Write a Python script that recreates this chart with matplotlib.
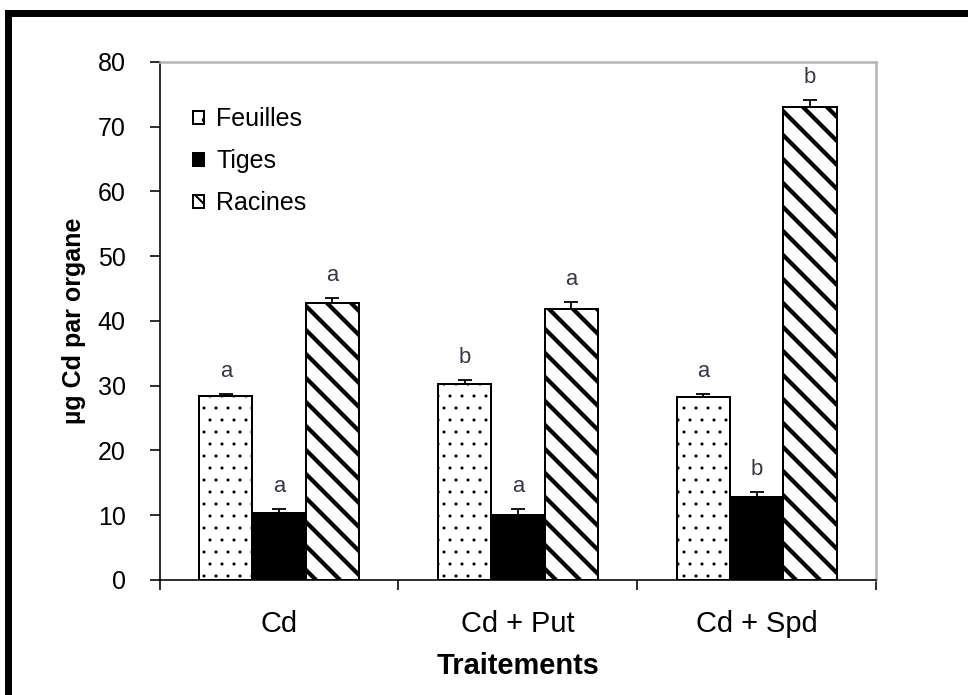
import matplotlib
matplotlib.use("Agg")
import matplotlib.pyplot as plt
from matplotlib.lines import Line2D
import numpy as np

plt.rcParams['font.family'] = ['Liberation Sans', 'DejaVu Sans']

traitements = ['Cd', 'Cd + Put', 'Cd + Spd']

feuilles = [28.4, 30.3, 28.2]
feuilles_err = [0.3, 0.6, 0.5]
feuilles_lettres = ['a', 'b', 'a']

tiges = [10.3, 10.0, 12.8]
tiges_err = [0.6, 0.9, 0.8]
tiges_lettres = ['a', 'a', 'b']

racines = [42.8, 41.9, 73.0]
racines_err = [0.8, 1.0, 1.1]
racines_lettres = ['a', 'a', 'b']

# dpi 72 : 1 point = 1 pixel, et le motif de hachure fait 72 px
fig = plt.figure(figsize=(968 / 72, 695 / 72), dpi=72)
ax = fig.add_axes([0.165, 0.1655, 0.740, 0.7455])

x = np.arange(len(traitements))
w = 0.223

series = [
    ('Feuilles', feuilles, feuilles_err, feuilles_lettres, 'white', '.', 0.6),
    ('Tiges', tiges, tiges_err, tiges_lettres, 'black', None, 1.0),
    ('Racines', racines, racines_err, racines_lettres, 'white', '\\', 4.2),
]

for i, (nom, vals, errs, lettres, fc, hatch, hlw) in enumerate(series):
    pos = x + (i - 1) * w
    with plt.rc_context({'hatch.linewidth': hlw, 'hatch.color': 'black'}):
        bars = ax.bar(pos, vals, width=w, color=fc, edgecolor='black',
                      linewidth=2, hatch=hatch, label=nom, zorder=2)
        for b in bars:
            if hasattr(b, 'set_hatch_linewidth'):
                b.set_hatch_linewidth(hlw)
    ax.errorbar(pos, vals, yerr=[np.zeros(len(vals)), errs], fmt='none',
                ecolor='black', elinewidth=1.8, capsize=7, capthick=1.8, zorder=3)
    for p, v, e, l in zip(pos, vals, errs, lettres):
        ax.annotate(l, (p, v + e), xytext=(0, 12), textcoords='offset points',
                    ha='center', va='bottom', fontsize=22, color='#3a3545')

ax.set_xlim(-0.5, 2.5)
ax.set_ylim(0, 80)
ax.set_yticks(range(0, 81, 10))
ax.set_xticks(x)
ax.set_xticklabels(traitements)
ax.set_xticks([-0.5, 0.5, 1.5, 2.5], minor=True)
ax.tick_params(axis='x', which='major', length=0, labelsize=29, pad=30)
ax.tick_params(axis='x', which='minor', length=10, width=1.6, direction='out')
ax.tick_params(axis='y', length=10, width=1.6, direction='out', labelsize=25, pad=24)

for s in ['left', 'bottom']:
    ax.spines[s].set_linewidth(1.6)
    ax.spines[s].set_color('black')
for s in ['top', 'right']:
    ax.spines[s].set_linewidth(2.5)
    ax.spines[s].set_color('#b4b4b4')

ax.set_ylabel('µg Cd par organe', fontsize=25, fontweight='bold', labelpad=12)
ax.set_xlabel('Traitements', fontsize=29, fontweight='bold', labelpad=14)

with plt.rc_context({'hatch.linewidth': 2.0}):
    leg = ax.legend(loc='upper left', frameon=False, fontsize=25,
                    handlelength=0.45, handleheight=0.45, handletextpad=0.5,
                    labelspacing=0.72, borderpad=0, borderaxespad=0,
                    bbox_to_anchor=(0.046, 0.912))

# cadre noir autour de la figure
fig.add_artist(Line2D([0.0085, 0.0085], [-0.01, 0.981], color='black', lw=7,
                      transform=fig.transFigure, solid_capstyle='projecting'))
fig.add_artist(Line2D([0.0085, 1.01], [0.981, 0.981], color='black', lw=7,
                      transform=fig.transFigure, solid_capstyle='projecting'))

fig.savefig('out.png', dpi=72)
